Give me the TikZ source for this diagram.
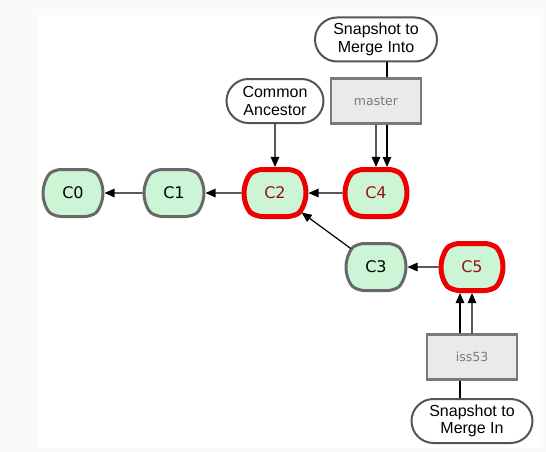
\documentclass[tikz,border=0pt]{standalone}
\usepackage{fontspec}
\setmainfont{Liberation Sans}
\newfontfamily\lucida{DejaVu Sans}
\usetikzlibrary{positioning,shapes.misc,arrows.meta}
\definecolor{commitfill}{HTML}{CCF5D5}
\definecolor{commitline}{HTML}{686868}
\definecolor{headline}{HTML}{EE0000}
\definecolor{headtext}{HTML}{991111}
\definecolor{branchfill}{HTML}{EAEAEA}
\definecolor{branchline}{HTML}{7A7A7A}
\definecolor{notecolor}{HTML}{555555}
\definecolor{pagegray}{HTML}{FAFAF8}

\tikzset{
  commit/.style={draw=commitline, line width=3pt, fill=commitfill, rounded rectangle,
    rounded rectangle arc length=110, rounded corners=6pt, minimum width=60pt,
    minimum height=47pt, inner sep=0pt, font=\lucida\fontsize{16}{18}\selectfont},
  head/.style={commit, draw=headline, line width=5pt, text=headtext, minimum width=62pt},
  branch/.style={draw=branchline, line width=2.5pt, fill=branchfill, minimum width=90pt,
    minimum height=45pt, text=branchline, font=\lucida\fontsize{12.5}{14}\selectfont},
  note/.style={draw=notecolor, line width=2pt, fill=white, rounded rectangle, align=center,
    inner xsep=0pt, minimum height=44pt, font=\fontsize{16}{17.5}\selectfont},
  arr/.style={-{Triangle[length=10pt,width=8.5pt]}, line width=1.2pt},
}

\begin{document}
\begin{tikzpicture}[x=1pt, y=-1pt, node distance=101pt]
    % Fondo
    \useasboundingbox (0,0) rectangle (546,452);
    \fill[pagegray] (0,0) rectangle (546,452);
    \fill[white] (37,15) rectangle (540,448);

    % Commits
    \node[commit] (c0) at (73,193) {C0};
    \node[commit, right of=c0] (c1) {C1};
    \node[head, right of=c1] (c2) {C2};
    \node[head, right of=c2] (c4) {C4};
    \node[commit, below of=c4, yshift=27pt] (c3) {C3};
    \node[head, right of=c3, xshift=-5pt] (c5) {C5};

    % Ramas
    \node[branch, above of=c4, yshift=-9pt] (master) {master};
    \node[branch, below of=c5, yshift=11pt] (iss53) {iss53};

    % Notas
    \node[note, minimum width=97pt, above of=c2, yshift=-9pt] (ancestor) {Common\\Ancestor};
    \node[note, minimum width=122pt, above of=master, yshift=-39.5pt] (into) {Snapshot to\\Merge Into};
    \node[note, minimum width=121pt, below of=iss53, yshift=37pt] (mergein) {Snapshot to\\Merge In};

    % Historia
    \draw[arr] (c1) -- (c0);
    \draw[arr] (c2) -- (c1);
    \draw[arr] (c4) -- (c2);
    \draw[arr] (c3) -- (c2);
    \draw[arr] (c5) -- (c3);

    % Punteros
    \draw[arr] (ancestor) -- (c2);
    \draw[arr] (master) -- (c4);
    \draw[arr] ([xshift=11pt]master.south) -- ([xshift=11pt]c4.north);
    \draw[line width=1.2pt] ([xshift=11pt]into.south) -- ([xshift=11pt]master.north);
    \draw[arr] (iss53) -- (c5);
    \draw[arr] ([xshift=-12pt]iss53.north) -- ([xshift=-12pt]c5.south);
    \draw[line width=1.2pt] ([xshift=-12pt]mergein.north) -- ([xshift=-12pt]iss53.south);
\end{tikzpicture}
\end{document}
